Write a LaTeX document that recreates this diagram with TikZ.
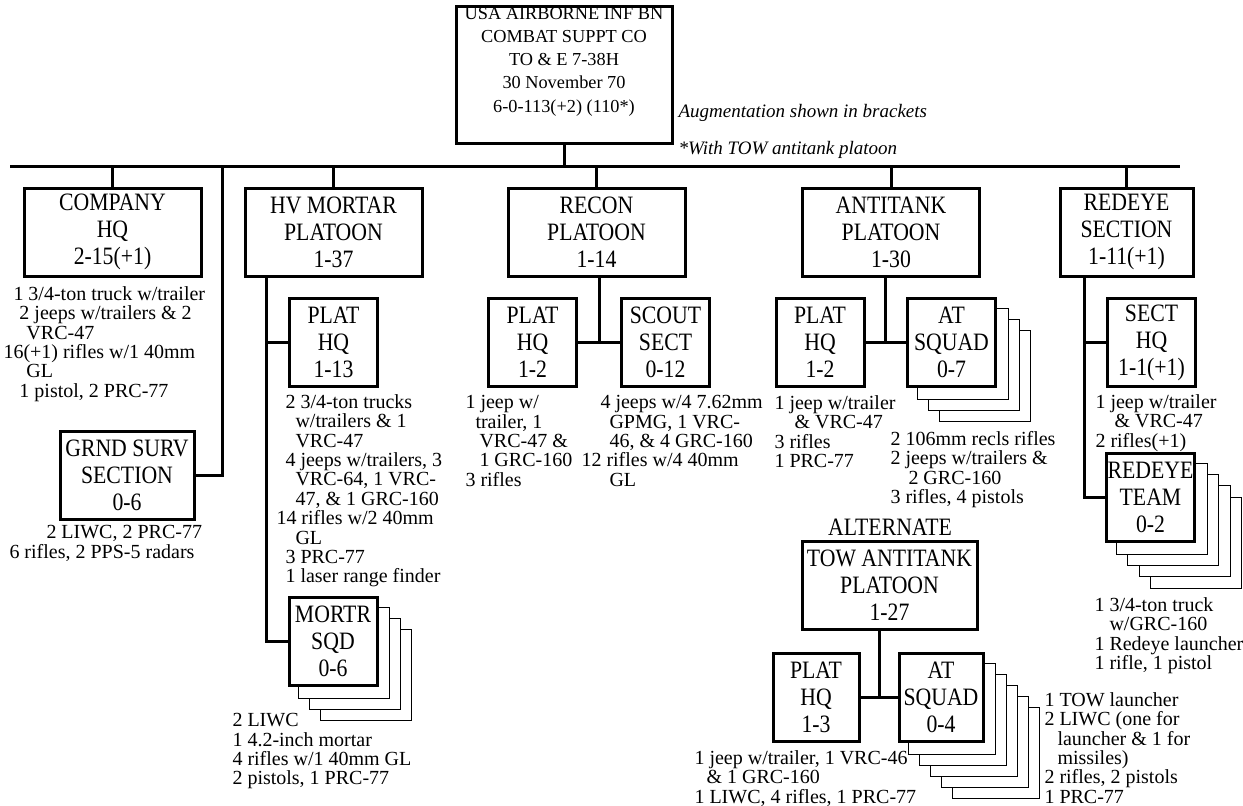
\documentclass[tikz,border=0pt]{standalone}
\usepackage{fontspec}
\setmainfont{Liberation Serif}
\newfontfamily\boxfont[FakeStretch=0.87]{Liberation Serif}
\usetikzlibrary{calc, backgrounds}

\begin{document}
\begin{tikzpicture}[x=1pt, y=-1pt, line width=3pt,
  unit/.style={draw, fill=white, align=center, inner sep=0pt,
    font=\boxfont\fontsize{25}{27}\selectfont, minimum width=88pt, minimum height=88pt},
  wide/.style={unit, minimum width=177pt},
  note/.style={anchor=north west, align=left, inner sep=0pt,
    font=\fontsize{20}{19.4}\selectfont},
  remark/.style={anchor=west, inner sep=0pt, font=\fontsize{19}{23}\selectfont\itshape},
  back/.style={draw, fill=white}]
\useasboundingbox (0,0) rectangle (1243,806);

% battalion box and bus
\node[draw, minimum width=216pt, minimum height=137pt] (bn) at (564,74.5) {};
\node[align=center, inner sep=0pt, font=\fontsize{18.3}{23.3}\selectfont] (bntext)
  at ($(bn.center)+(0,-13)$) {USA AIRBORNE INF BN\\COMBAT SUPPT CO\\TO \& E 7-38H\\30 November 70\\6-0-113(+2) (110*)};
\node[remark] (aug1) at (677,113) {Augmentation shown in brackets};
\node[remark] (aug2) at (677,150) {*With TOW antitank platoon};
\coordinate (busw) at (10,166);
\coordinate (buse) at (1180,166);
\coordinate (gtap) at (222,166);

% platoons
\node[wide] (co) at (112.5,232) {COMPANY\\HQ\\2-15(+1)};
\node[wide] (hv) at (333.5,232) {HV MORTAR\\PLATOON\\1-37};
\node[wide] (rc) at (596.5,232) {RECON\\PLATOON\\1-14};
\node[wide] (atk) at (891,232) {ANTITANK\\PLATOON\\1-30};
\node[wide, minimum width=133pt] (rd) at (1126.5,232) {REDEYE\\SECTION\\1-11(+1)};
\node[unit, minimum width=134pt] (gs) at (127,475) {GRND SURV\\SECTION\\0-6};

% sections and squads
\node[unit] (hhq) at (333.5,342.5) {PLAT\\HQ\\1-13};
\node[unit] (ms) at (333,641.5) {MORTR\\SQD\\0-6};
\node[unit] (rhq) at (532.5,342.5) {PLAT\\HQ\\1-2};
\node[unit] (ss) at (665.5,342.5) {SCOUT\\SECT\\0-12};
\node[unit] (ahq) at (820,342.5) {PLAT\\HQ\\1-2};
\node[unit] (asq) at (951.5,342.5) {AT\\SQUAD\\0-7};
\node[unit] (shq) at (1151.5,342.5) {SECT\\HQ\\1-1(+1)};
\node[unit] (rt) at (1150.5,497) {REDEYE\\TEAM\\0-2};
\node[font=\boxfont\fontsize{25}{27}\selectfont, inner sep=0pt] (alt) at (890,527) {ALTERNATE};
\node[wide, minimum width=175pt] (tow) at (889.5,585.5) {TOW ANTITANK\\PLATOON\\1-27};
\node[unit, minimum width=86pt] (thq) at (816,697.5) {PLAT\\HQ\\1-3};
\node[unit, minimum width=84pt] (tsq) at (941,697.5) {AT\\SQUAD\\0-4};

% stacked squads
\begin{scope}[on background layer]
\foreach \k in {3,2,1}
  \draw[back] ($(ms.south west)+(11*\k,11*\k)$) rectangle ($(ms.north east)+(11*\k,11*\k)$);
\foreach \k in {3,2,1}
  \draw[back] ($(asq.south west)+(11*\k,11*\k)$) rectangle ($(asq.north east)+(11*\k,11*\k)$);
\foreach \k in {4,3,2,1}
  \draw[back] ($(rt.south west)+(11.3*\k,11.3*\k)$) rectangle ($(rt.north east)+(11.3*\k,11.3*\k)$);
\foreach \k in {5,4,3,2,1}
  \draw[back] ($(tsq.south west)+(11*\k,11*\k)$) rectangle ($(tsq.north east)+(11*\k,11*\k)$);
\end{scope}

% connectors
\draw (busw) -- (buse);
\draw (bn.south) -- (bn.south |- busw);
\foreach \n in {co,hv,rc,atk,rd}
  \draw (\n.north) -- (\n.north |- busw);
\draw (gtap) |- (gs.east);
\coordinate (hvs) at ($(hv.south west)+(23,0)$);
\draw (hvs) |- (ms.west);
\draw (hhq.west) -- (hhq.west -| hvs);
\coordinate (rmid) at ($(rhq.east)!0.5!(ss.west)$);
\draw (rhq.east) -- (ss.west);
\draw (rmid) -- (rmid |- rc.south);
\coordinate (amid) at ($(ahq.east)!0.5!(asq.west)$);
\draw (ahq.east) -- (asq.west);
\draw (amid) -- (amid |- atk.south);
\coordinate (tmid) at ($(thq.east)!0.5!(tsq.west)$);
\draw (thq.east) -- (tsq.west);
\draw (tmid) -- (tmid |- tow.south);
\coordinate (rds) at ($(rd.south west)+(26,0)$);
\draw (rds) |- (rt.west);
\draw (shq.west) -- (shq.west -| rds);

% equipment notes
\node[note] (con) at (2,285) {\hspace*{10pt}1 3/4-ton truck w/trailer\\
  \hspace*{16pt}2 jeeps w/trailers \& 2\\
  \hspace*{23pt}VRC-47\\
  16(+1) rifles w/1 40mm\\
  \hspace*{23pt}GL\\
  \hspace*{16pt}1 pistol, 2 PRC-77};
\node[note] (gsn) at (8,524) {\hspace*{37pt}2 LIWC, 2 PRC-77\\
  6 rifles, 2 PPS-5 radars};
\node[note] (hhqn) at (275,393) {\hspace*{9pt}2 3/4-ton trucks\\
  \hspace*{19pt}w/trailers \& 1\\
  \hspace*{19pt}VRC-47\\
  \hspace*{9pt}4 jeeps w/trailers, 3\\
  \hspace*{19pt}VRC-64, 1 VRC-\\
  \hspace*{19pt}47, \& 1 GRC-160\\
  14 rifles w/2 40mm\\
  \hspace*{19pt}GL\\
  \hspace*{9pt}3 PRC-77\\
  \hspace*{9pt}1 laser range finder};
\node[note] (msn) at (231,712) {2 LIWC\\1 4.2-inch mortar\\4 rifles w/1 40mm GL\\2 pistols, 1 PRC-77};
\node[note] (rhqn) at (464,394) {1 jeep w/\\
  \hspace*{10pt}trailer, 1\\
  \hspace*{14pt}VRC-47 \&\\
  \hspace*{14pt}1 GRC-160\\
  3 rifles};
\node[note] (ssn) at (580,394) {\hspace*{19pt}4 jeeps w/4 7.62mm\\
  \hspace*{28pt}GPMG, 1 VRC-\\
  \hspace*{28pt}46, \& 4 GRC-160\\
  12 rifles w/4 40mm\\
  \hspace*{28pt}GL};
\node[note] (ahqn) at (773,394) {1 jeep w/trailer\\
  \hspace*{20pt}\& VRC-47\\
  3 rifles\\
  1 PRC-77};
\node[note] (asqn) at (889,430) {2 106mm recls rifles\\
  2 jeeps w/trailers \&\\
  \hspace*{18pt}2 GRC-160\\
  3 rifles, 4 pistols};
\node[note] (shqn) at (1094,393) {1 jeep w/trailer\\
  \hspace*{19pt}\& VRC-47\\
  2 rifles(+1)};
\node[note] (rtn) at (1093,596) {1 3/4-ton truck\\
  \hspace*{15pt}w/GRC-160\\
  1 Redeye launcher\\
  1 rifle, 1 pistol};
\node[note] (thqn) at (693,749) {1 jeep w/trailer, 1 VRC-46\\
  \hspace*{12pt}\& 1 GRC-160\\
  1 LIWC, 4 rifles, 1 PRC-77};
\node[note] (tsqn) at (1043,691) {1 TOW launcher\\
  2 LIWC (one for\\
  \hspace*{13pt}launcher \& 1 for\\
  \hspace*{13pt}missiles)\\
  2 rifles, 2 pistols\\
  1 PRC-77};
\end{tikzpicture}
\end{document}
